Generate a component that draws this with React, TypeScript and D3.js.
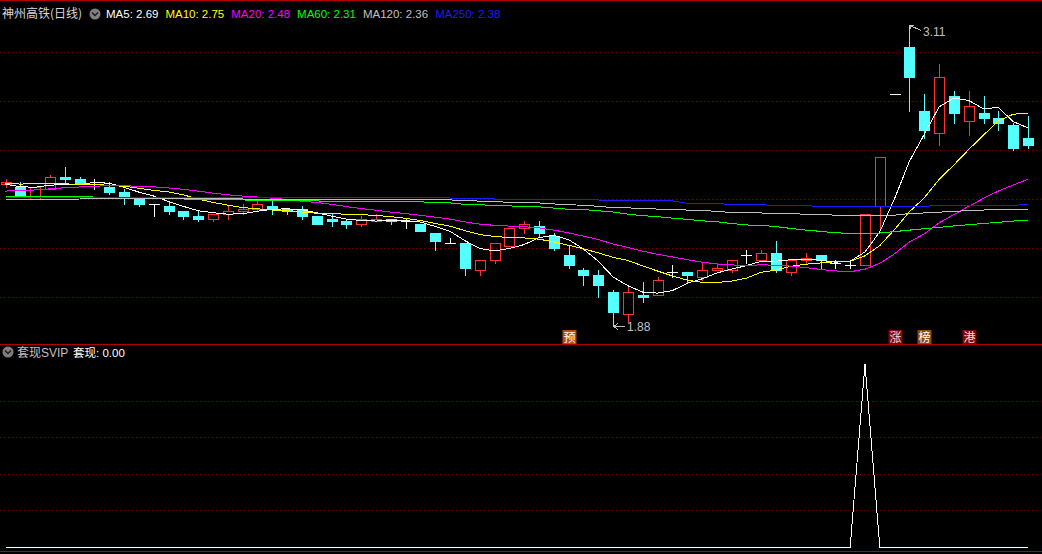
import React from 'react';
import * as d3 from 'd3';

const W = 1042;
const H = 554;

const stockName = '神州高铁(日线)';
const indicatorName = '套现SVIP';
const indicatorLabel = '套现';

// daily candles (visible window)
const opens = [
  2.46, 2.45, 2.40, 2.44, 2.49, 2.48, 2.46, 2.45, 2.43, 2.40,
  2.38, 2.37, 2.35, 2.33, 2.32, 2.34, 2.35, 2.36, 2.37, 2.36,
  2.36, 2.33, 2.32, 2.31, 2.30, 2.31, 2.32, 2.31, 2.30, 2.26,
  2.22, 2.22, 2.11, 2.15, 2.21, 2.28, 2.29, 2.25, 2.17, 2.11,
  2.09, 2.02, 1.93, 2.01, 2.01, 2.10, 2.10, 2.08, 2.11, 2.11,
  2.17, 2.15, 2.18, 2.10, 2.15, 2.17, 2.14, 2.13, 2.13, 2.37,
  2.83, 3.02, 2.76, 2.67, 2.82, 2.72, 2.75, 2.73, 2.70, 2.65,
];
const highs = [
  2.48, 2.47, 2.45, 2.50, 2.53, 2.49, 2.48, 2.47, 2.44, 2.40,
  2.38, 2.39, 2.35, 2.35, 2.34, 2.37, 2.38, 2.39, 2.39, 2.36,
  2.37, 2.33, 2.34, 2.32, 2.33, 2.34, 2.32, 2.32, 2.30, 2.26,
  2.24, 2.22, 2.15, 2.22, 2.28, 2.31, 2.31, 2.26, 2.21, 2.12,
  2.11, 2.03, 2.05, 2.06, 2.08, 2.13, 2.10, 2.14, 2.14, 2.15,
  2.19, 2.19, 2.23, 2.15, 2.18, 2.17, 2.15, 2.15, 2.34, 2.57,
  2.83, 3.11, 2.83, 2.95, 2.84, 2.84, 2.82, 2.76, 2.71, 2.74,
];
const lows = [
  2.45, 2.41, 2.40, 2.44, 2.47, 2.46, 2.44, 2.42, 2.38, 2.37,
  2.33, 2.34, 2.32, 2.31, 2.31, 2.32, 2.34, 2.35, 2.34, 2.34,
  2.32, 2.30, 2.29, 2.28, 2.29, 2.31, 2.30, 2.28, 2.27, 2.19,
  2.22, 2.09, 2.09, 2.14, 2.21, 2.26, 2.25, 2.19, 2.12, 2.05,
  2.00, 1.88, 1.90, 1.98, 2.01, 2.08, 2.06, 2.07, 2.11, 2.10,
  2.14, 2.15, 2.10, 2.09, 2.14, 2.12, 2.12, 2.12, 2.13, 2.28,
  2.83, 2.76, 2.65, 2.62, 2.71, 2.66, 2.71, 2.68, 2.60, 2.61,
];
const closes = [
  2.47, 2.41, 2.45, 2.49, 2.48, 2.46, 2.46, 2.43, 2.41, 2.38,
  2.38, 2.35, 2.33, 2.32, 2.34, 2.35, 2.36, 2.38, 2.36, 2.35,
  2.33, 2.30, 2.31, 2.30, 2.32, 2.32, 2.31, 2.31, 2.27, 2.23,
  2.22, 2.12, 2.15, 2.22, 2.28, 2.30, 2.26, 2.20, 2.13, 2.09,
  2.05, 1.94, 2.02, 2.00, 2.07, 2.10, 2.09, 2.11, 2.12, 2.15,
  2.17, 2.18, 2.11, 2.15, 2.16, 2.15, 2.14, 2.13, 2.34, 2.57,
  2.83, 2.90, 2.68, 2.90, 2.75, 2.78, 2.73, 2.71, 2.61, 2.62,
];
// closes of the 19 sessions before the window (estimated from where the MA lines start)
const priorCloses = [
  2.38, 2.39, 2.40, 2.39, 2.40, 2.39, 2.40, 2.41, 2.42, 2.43,
  2.44, 2.44, 2.47, 2.50, 2.49, 2.46, 2.46, 2.45, 2.46,
];
// long moving averages
const ma60 = [
  2.412, 2.412, 2.412, 2.412, 2.411, 2.409, 2.408, 2.407, 2.406, 2.404,
  2.403, 2.402, 2.400, 2.398, 2.397, 2.396, 2.396, 2.395, 2.395, 2.394,
  2.392, 2.392, 2.391, 2.391, 2.390, 2.390, 2.389, 2.389, 2.388, 2.387,
  2.384, 2.378, 2.377, 2.373, 2.372, 2.369, 2.368, 2.363, 2.358, 2.357,
  2.352, 2.347, 2.338, 2.332, 2.328, 2.322, 2.317, 2.311, 2.307, 2.300,
  2.294, 2.293, 2.287, 2.280, 2.273, 2.268, 2.262, 2.260, 2.260, 2.261,
  2.267, 2.273, 2.279, 2.284, 2.290, 2.295, 2.300, 2.305, 2.310, 2.314,
];
const ma120 = [
  2.396, 2.396, 2.396, 2.397, 2.399, 2.400, 2.401, 2.402, 2.403, 2.403,
  2.403, 2.403, 2.403, 2.403, 2.402, 2.401, 2.400, 2.399, 2.398, 2.397,
  2.397, 2.396, 2.396, 2.396, 2.396, 2.396, 2.396, 2.396, 2.396, 2.396,
  2.396, 2.395, 2.391, 2.390, 2.386, 2.385, 2.384, 2.380, 2.376, 2.375,
  2.370, 2.365, 2.364, 2.360, 2.359, 2.356, 2.355, 2.354, 2.349, 2.345,
  2.344, 2.343, 2.340, 2.340, 2.338, 2.337, 2.334, 2.333, 2.333, 2.333,
  2.334, 2.341, 2.343, 2.346, 2.350, 2.352, 2.355, 2.358, 2.359, 2.359,
];
const ma250 = [
  2.407, 2.407, 2.407, 2.407, 2.407, 2.407, 2.407, 2.407, 2.407, 2.407,
  2.407, 2.407, 2.406, 2.406, 2.406, 2.406, 2.406, 2.406, 2.406, 2.406,
  2.406, 2.406, 2.406, 2.406, 2.406, 2.406, 2.406, 2.406, 2.406, 2.406,
  2.404, 2.403, 2.403, 2.400, 2.400, 2.400, 2.400, 2.400, 2.400, 2.396,
  2.396, 2.392, 2.392, 2.392, 2.392, 2.392, 2.382, 2.382, 2.382, 2.377,
  2.377, 2.377, 2.373, 2.373, 2.373, 2.369, 2.369, 2.369, 2.369, 2.369,
  2.369, 2.369, 2.370, 2.374, 2.374, 2.374, 2.374, 2.374, 2.374, 2.378,
];
// 套现 signal
const signal = [
  0, 0, 0, 0, 0, 0, 0, 0, 0, 0,
  0, 0, 0, 0, 0, 0, 0, 0, 0, 0,
  0, 0, 0, 0, 0, 0, 0, 0, 0, 0,
  0, 0, 0, 0, 0, 0, 0, 0, 0, 0,
  0, 0, 0, 0, 0, 0, 0, 0, 0, 0,
  0, 0, 0, 0, 0, 0, 0, 0, 1, 0,
  0, 0, 0, 0, 0, 0, 0, 0, 0, 0,
];
const priceTicks = [2.0, 2.2, 2.4, 2.6, 2.8, 3.0];
const signalTicks = [0.2, 0.4, 0.6, 0.8];
const markerIndex = [38, 60, 62, 65];
const markerText = ['预', '涨', '榜', '港'];
const markerBg = ['#b84a14', '#7d0a0a', '#8c4a0c', '#7d0a0a'];
const markerFg = ['#ffffff', '#ffd0d0', '#ffffff', '#ffd0d0'];

const UP = '#ff3232';
const DOWN = '#54ffff';
const GRID = '#7a0000';
const FRAME = '#b00000';
const LATIN = "'Liberation Sans', Arial, 'Noto Sans CJK SC', sans-serif";
const CJK = "'Noto Sans CJK SC', sans-serif";

function movingAverage(period: number): number[] {
  const all = priorCloses.concat(closes);
  const off = priorCloses.length;
  return closes.map((_, i) => d3.mean(all.slice(off + i - period + 1, off + i + 1)) as number);
}

export default function App() {
  const n = closes.length;
  const x = d3.scaleLinear().domain([0, n - 1]).range([5.5, 1028]);
  const y = d3.scaleLinear().domain([2.0, 3.0]).range([297, 52]);
  const ySig = d3.scaleLinear().domain([0, 1]).range([547, 364]);

  const ma5 = movingAverage(5);
  const ma10 = movingAverage(10);
  const ma20 = movingAverage(20);

  const mas = [
    { name: 'MA5', values: ma5, color: '#ffffff' },
    { name: 'MA10', values: ma10, color: '#ffff00' },
    { name: 'MA20', values: ma20, color: '#ff00ff' },
    { name: 'MA60', values: ma60, color: '#00ff00' },
    { name: 'MA120', values: ma120, color: '#c0c0c0' },
    { name: 'MA250', values: ma250, color: '#1c1cff' },
  ];

  const line = d3
    .line<number>()
    .x((_, i) => x(i))
    .y((v) => y(v));
  const sigLine = d3
    .line<number>()
    .x((_, i) => x(i))
    .y((v) => ySig(v));

  const hiIdx = d3.maxIndex(highs);
  const loIdx = d3.minIndex(lows);
  const hx = Math.round(x(hiIdx));
  const hy = Math.round(y(highs[hiIdx]));
  const lx = Math.round(x(loIdx));
  const ly = Math.round(y(lows[loIdx]));

  return (
    <div style={{ position: 'absolute', left: 0, top: 0, width: W, height: H, background: '#000' }}>
      <svg width={W} height={H} style={{ display: 'block' }}>
        <rect x={0} y={0} width={W} height={H} fill="#000" />

        {/* frame lines */}
        <g shapeRendering="crispEdges">
          <line x1={0} x2={W} y1={0.5} y2={0.5} stroke={FRAME} />
          <line x1={0} x2={W} y1={344.5} y2={344.5} stroke={FRAME} />
          <line x1={0} x2={W} y1={551.5} y2={551.5} stroke={FRAME} />
          {priceTicks.map((t) => (
            <line key={t} x1={0} x2={W} y1={Math.round(y(t)) + 0.5} y2={Math.round(y(t)) + 0.5}
              stroke={GRID} strokeDasharray="1 3" />
          ))}
          {signalTicks.map((t) => (
            <line key={t} x1={0} x2={W} y1={Math.round(ySig(t)) + 0.5} y2={Math.round(ySig(t)) + 0.5}
              stroke={GRID} strokeDasharray="1 3" />
          ))}
        </g>

        {/* candles */}
        <g shapeRendering="crispEdges">
          {closes.map((c, i) => {
            const o = opens[i];
            const cx = Math.round(x(i));
            const yH = Math.round(y(highs[i]));
            const yL = Math.round(y(lows[i]));
            const yO = Math.round(y(o));
            const yC = Math.round(y(c));
            const top = Math.min(yO, yC);
            const bot = Math.max(yO, yC);
            if (c > o) {
              return (
                <g key={i} stroke={UP} fill="none">
                  {yH < top && <line x1={cx + 0.5} x2={cx + 0.5} y1={yH} y2={top} />}
                  {yL > bot && <line x1={cx + 0.5} x2={cx + 0.5} y1={bot + 1} y2={yL + 1} />}
                  <rect x={cx - 5 + 0.5} y={top + 0.5} width={10} height={bot - top} />
                </g>
              );
            }
            if (c < o) {
              return (
                <g key={i}>
                  <line x1={cx + 0.5} x2={cx + 0.5} y1={yH} y2={yL + 1} stroke={DOWN} />
                  <rect x={cx - 5} y={top} width={11} height={Math.max(1, bot - top + 1)} fill={DOWN} />
                </g>
              );
            }
            return (
              <g key={i} stroke="#ffffff">
                {yL > yH && <line x1={cx + 0.5} x2={cx + 0.5} y1={yH} y2={yL + 1} />}
                <line x1={cx - 5} x2={cx + 6} y1={yO + 0.5} y2={yO + 0.5} />
              </g>
            );
          })}
        </g>

        {/* moving averages */}
        <g fill="none" shapeRendering="crispEdges">
          {mas.map((m) => (
            <path key={m.name} d={line(m.values) || ''} stroke={m.color} strokeWidth={1} />
          ))}
        </g>

        {/* high / low annotations */}
        <g stroke="#c0c0c0" fill="none" shapeRendering="crispEdges">
          <path d={`M${hx + 1},${hy + 0.5} L${hx + 12},${hy + 5.5} M${hx + 1},${hy + 0.5} h4 M${hx + 1.5},${hy} v4`} />
          <path d={`M${lx + 1},${ly + 0.5} H${lx + 12} M${lx + 1},${ly + 0.5} l4,-3 M${lx + 1},${ly + 0.5} l4,3`} />
        </g>
        <text x={hx + 14} y={hy + 11} fill="#c0c0c0" fontFamily={LATIN} fontSize={12}>
          {highs[hiIdx].toFixed(2)}
        </text>
        <text x={lx + 14} y={ly + 5} fill="#c0c0c0" fontFamily={LATIN} fontSize={12}>
          {lows[loIdx].toFixed(2)}
        </text>

        {/* event markers */}
        {markerIndex.map((idx, k) => {
          const cx = Math.round(x(idx));
          return (
            <g key={idx}>
              <rect x={cx - 6.5} y={330} width={14} height={14} fill={markerBg[k]} />
              <text x={cx + 0.5} y={342} textAnchor="middle" fill={markerFg[k]} fontFamily={CJK} fontSize={12}>
                {markerText[k]}
              </text>
            </g>
          );
        })}

        {/* header */}
        <text x={2} y={18} fill="#d8d8d8" fontFamily={CJK} fontSize={12}>{stockName}</text>
        <circle cx={95} cy={14} r={5.5} fill="#7f7f7f" />
        <path d="M92,12.5 L95,15.5 L98,12.5" stroke="#1a1a1a" strokeWidth={1.4} fill="none" />
        <text x={106} y={18} fontFamily={LATIN} fontSize={11.5}>
          {mas.map((m, k) => (
            <tspan key={m.name} fill={m.color} dx={k === 0 ? 0 : 7}>
              {`${m.name}: ${m.values[m.values.length - 1].toFixed(2)}`}
            </tspan>
          ))}
        </text>

        {/* indicator panel */}
        <circle cx={8} cy={352} r={5.5} fill="#7f7f7f" />
        <path d="M5,350.5 L8,353.5 L11,350.5" stroke="#1a1a1a" strokeWidth={1.4} fill="none" />
        <text x={17} y={357} fill="#c0c0c0" fontFamily={LATIN} fontSize={12}>{indicatorName}</text>
        <text x={73} y={357} fill="#ffffff" fontFamily={LATIN} fontSize={11.5}>
          {`${indicatorLabel}: ${signal[signal.length - 1].toFixed(2)}`}
        </text>
        <path d={sigLine(signal) || ''} stroke="#ffffff" strokeWidth={1} fill="none" shapeRendering="crispEdges" />
      </svg>
    </div>
  );
}
